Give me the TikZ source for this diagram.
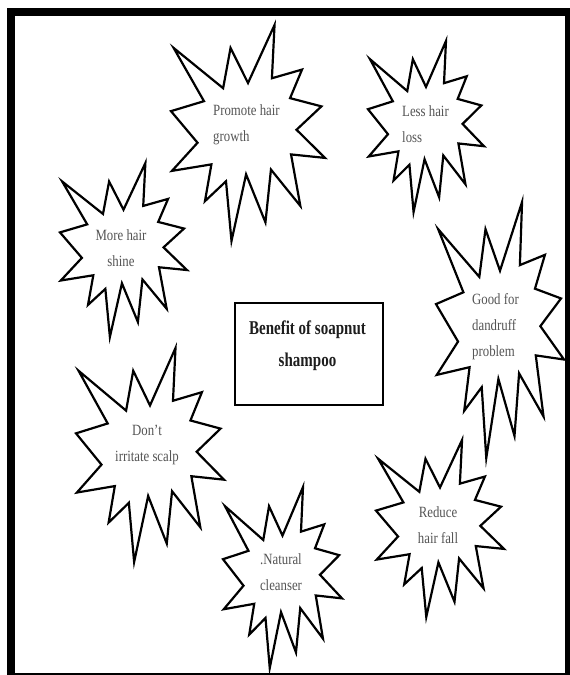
\documentclass[tikz,border=0pt]{standalone}
\usepackage{fontspec}
\setmainfont{Liberation Serif}
\usepackage{graphicx}
\definecolor{txtgray}{HTML}{545454}
\definecolor{titlecol}{HTML}{1E1E1E}
\tikzset{
  burstline/.style={draw=black, line width=2.2pt, fill=white, line join=miter},
  bursttext/.style={inner sep=0pt, text=txtgray},
  framebar/.style={fill=black},
  centerbox/.style={draw=black, line width=2pt, inner sep=0pt, minimum width=147.5pt, minimum height=102pt},
  titletext/.style={inner sep=0pt, text=titlecol}
}
\newcommand{\burstshape}[4]{%
  \begin{scope}[shift={(#1,#2)},xscale=#3/216,yscale=#4/216]
    \draw[burstline] (108,58) -- (145.22,0) -- (141.55,53.25) -- (183.80,44.57)
      -- (167.02,73.15) -- (210.97,81.37) -- (176.07,104.75) -- (216,132.90)
      -- (168.37,129.42) -- (181.45,180.95) -- (140.20,144.57) -- (132.47,197.37)
      -- (105.32,149.35) -- (84.85,216) -- (77.15,156.27) -- (47.62,176.17)
      -- (56.67,139.37) -- (1.35,145.87) -- (37.22,117.75) -- (0,86.15)
      -- (46.27,76.17) -- (3.70,22.95) -- (73.12,63.20) -- (83.52,22.95) -- cycle;
  \end{scope}}
\newcommand{\stxt}[2]{\scalebox{1}[1.22]{\fontsize{12.8}{21.3}\selectfont\begin{tabular}{@{}#1@{}}#2\end{tabular}}}
\newcommand{\ttxt}[1]{\scalebox{1}[1.3]{\fontsize{15}{24.6}\selectfont\bfseries\begin{tabular}{@{}c@{}}#1\end{tabular}}}
\begin{document}
\begin{tikzpicture}[x=1pt,y=-1pt]
  \useasboundingbox (0,0) rectangle (570,675);
  \fill[white] (0,0) rectangle (570,675);
  % frame
  \fill[framebar] (7,8) rectangle (15,675);
  \fill[framebar] (7,8) rectangle (570,16);
  \fill[framebar] (565,8) rectangle (570,675);
  \fill[framebar] (7,672.5) rectangle (570,674.5);
  % starbursts
  \burstshape{171}{25}{154}{216}
  \burstshape{368}{41}{116}{171}
  \burstshape{60}{163}{127}{174}
  \burstshape{436}{202}{128}{256}
  \burstshape{76}{348}{148}{214}
  \burstshape{376}{440}{128}{177}
  \burstshape{223}{487}{119}{181}
  % texts
  \node[bursttext, anchor=west] (promote) at (213,123) {\stxt{l}{Promote hair\\growth}};
  \node[bursttext, anchor=west] (less) at (402,124.5) {\stxt{l}{Less hair\\loss}};
  \node[bursttext] (more) at (121,248) {\stxt{c}{More hair\\shine}};
  \node[bursttext, anchor=west] (good) at (472,325.5) {\stxt{l}{Good for\\dandruff\\problem}};
  \node[bursttext] (dont) at (147,443) {\stxt{c}{Don't\\irritate scalp}};
  \node[bursttext] (reduce) at (438,525) {\stxt{c}{Reduce\\hair fall}};
  \node[bursttext] (natural) at (281,572.5) {\stxt{c}{.Natural\\cleanser}};
  % center
  \node[centerbox] (box) at (308.75,354) {};
  \node[titletext] (title) at (307.5,344) {\ttxt{Benefit of soapnut\\shampoo}};
\end{tikzpicture}
\end{document}
